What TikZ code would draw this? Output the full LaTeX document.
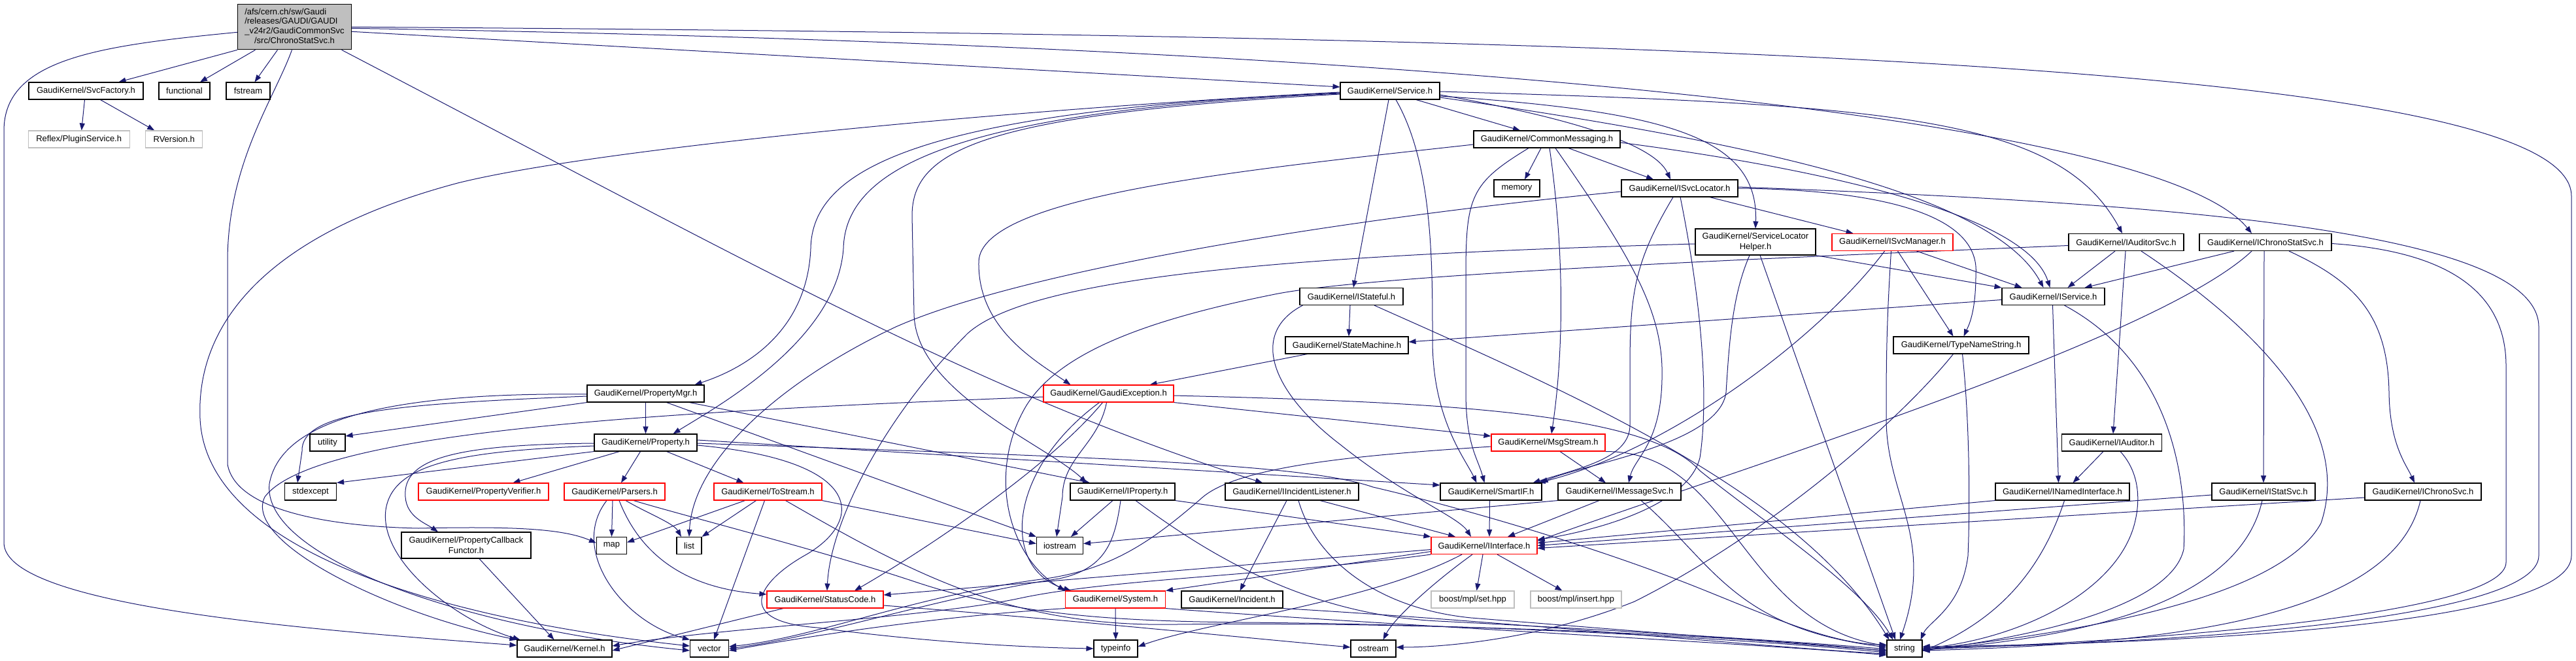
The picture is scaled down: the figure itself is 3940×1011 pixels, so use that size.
\documentclass[tikz,border=0pt]{standalone}
\usepackage{fontspec}
\setmainfont{Liberation Sans}
\usetikzlibrary{arrows.meta,backgrounds}
\definecolor{depBlue}{HTML}{191970}
\definecolor{rootGray}{HTML}{BFBFBF}
\definecolor{hideRed}{HTML}{FF0000}
\definecolor{extGray}{HTML}{BFBFBF}

\begin{document}
\begin{tikzpicture}[x=1pt, y=-1pt,
    hdr/.style={draw=black, fill=white, line width=1.1pt, inner sep=0pt,
      minimum height=26pt, align=center, font=\fontsize{13}{15.5}\selectfont},
    redhdr/.style={hdr, draw=hideRed},
    grayhdr/.style={hdr, draw=extGray},
    dep/.style={depBlue, line width=1pt, -{Triangle[length=11pt,width=8pt]}}]
  \useasboundingbox (0,0) rectangle (3940,1011);

  % header boxes, row by row
  \node[hdr, fill=rootGray, minimum width=174pt, minimum height=69pt, font=\fontsize{13}{14.7}\selectfont] (root) at (450.5,41.3)
    {\begin{tabular}{@{}l@{}}/afs/cern.ch/sw/Gaudi\\/releases/GAUDI/GAUDI\\\_v24r2/GaudiCommonSvc\\\multicolumn{1}{@{}c@{}}{/src/ChronoStatSvc.h}\end{tabular}};
  \node[hdr, minimum width=175pt] (svcfactory) at (131.5,139) {GaudiKernel/SvcFactory.h};
  \node[hdr, minimum width=78pt] (functional) at (282,139) {functional};
  \node[hdr, minimum width=67pt] (fstream) at (379.5,139) {fstream};
  \node[hdr, minimum width=152pt] (service) at (2126,139) {GaudiKernel/Service.h};
  \node[grayhdr, minimum width=155pt] (reflex) at (120.7,213) {Reflex/PluginService.h};
  \node[grayhdr, minimum width=87pt] (rversion) at (266.3,213) {RVersion.h};
  \node[hdr, minimum width=224pt] (commonmsg) at (2366,213) {GaudiKernel/CommonMessaging.h};
  \node[hdr, minimum width=70pt] (memory) at (2320,288) {memory};
  \node[hdr, minimum width=178pt] (isvclocator) at (2569,288) {GaudiKernel/ISvcLocator.h};
  \node[hdr, minimum width=184pt, minimum height=40pt] (locatorhelper) at (2685,370) {GaudiKernel/ServiceLocator\\Helper.h};
  \node[redhdr, minimum width=185pt] (isvcmanager) at (2894.5,370.5) {GaudiKernel/ISvcManager.h};
  \node[hdr, minimum width=176pt] (iauditorsvc) at (3252,370.5) {GaudiKernel/IAuditorSvc.h};
  \node[hdr, minimum width=202pt] (ichronostat) at (3465,370.5) {GaudiKernel/IChronoStatSvc.h};
  \node[hdr, minimum width=158pt] (istateful) at (2067,453.5) {GaudiKernel/IStateful.h};
  \node[hdr, minimum width=157pt] (iservice) at (3140.5,453.5) {GaudiKernel/IService.h};
  \node[hdr, minimum width=188pt] (statemachine) at (2060,528) {GaudiKernel/StateMachine.h};
  \node[hdr, minimum width=207pt] (typenamestring) at (2999.5,528) {GaudiKernel/TypeNameString.h};
  \node[hdr, minimum width=179pt] (propertymgr) at (987.5,602) {GaudiKernel/PropertyMgr.h};
  \node[redhdr, minimum width=199pt] (gaudiexception) at (1695.5,602) {GaudiKernel/GaudiException.h};
  \node[hdr, minimum width=157pt] (property) at (987.5,677) {GaudiKernel/Property.h};
  \node[hdr, minimum width=54pt] (utility) at (501,677) {utility};
  \node[redhdr, minimum width=174pt] (msgstream) at (2368,677) {GaudiKernel/MsgStream.h};
  \node[hdr, minimum width=153pt] (iauditor) at (3230,677) {GaudiKernel/IAuditor.h};
  \node[hdr, minimum width=79pt] (stdexcept) at (475,752) {stdexcept};
  \node[redhdr, minimum width=199pt] (propertyverifier) at (739.5,752) {GaudiKernel/PropertyVerifier.h};
  \node[redhdr, minimum width=154pt] (parsers) at (940,752) {GaudiKernel/Parsers.h};
  \node[redhdr, minimum width=165pt] (tostream) at (1174.5,752) {GaudiKernel/ToStream.h};
  \node[hdr, minimum width=160pt] (iproperty) at (1717,752) {GaudiKernel/IProperty.h};
  \node[hdr, minimum width=204pt] (iincident) at (1976,752) {GaudiKernel/IIncidentListener.h};
  \node[hdr, minimum width=155pt] (smartif) at (2280.5,752) {GaudiKernel/SmartIF.h};
  \node[hdr, minimum width=188pt] (imessagesvc) at (2477,752) {GaudiKernel/IMessageSvc.h};
  \node[hdr, minimum width=205pt] (inamedinterface) at (3154.5,752) {GaudiKernel/INamedInterface.h};
  \node[hdr, minimum width=158pt] (istatsvc) at (3462,752) {GaudiKernel/IStatSvc.h};
  \node[hdr, minimum width=178pt] (ichronosvc) at (3706,752) {GaudiKernel/IChronoSvc.h};
  \node[hdr, minimum width=198pt, minimum height=40pt] (propertycallback) at (713,834) {GaudiKernel/PropertyCallback\\Functor.h};
  \node[hdr, minimum width=46pt] (map) at (935.5,834.5) {map};
  \node[hdr, minimum width=38pt] (list) at (1054,834.5) {list};
  \node[hdr, minimum width=71pt] (iostream) at (1621,834.5) {iostream};
  \node[redhdr, minimum width=162pt] (iinterface) at (2270,834.5) {GaudiKernel/IInterface.h};
  \node[redhdr, minimum width=178pt] (statuscode) at (1262,917) {GaudiKernel/StatusCode.h};
  \node[redhdr, minimum width=153pt] (system) at (1706,917) {GaudiKernel/System.h};
  \node[hdr, minimum width=155pt] (incident) at (1884.5,917) {GaudiKernel/Incident.h};
  \node[grayhdr, minimum width=127pt] (boostset) at (2252.5,917) {boost/mpl/set.hpp};
  \node[grayhdr, minimum width=139pt] (boostinsert) at (2410.5,917) {boost/mpl/insert.hpp};
  \node[hdr, minimum width=145pt] (kernel) at (863.5,992) {GaudiKernel/Kernel.h};
  \node[hdr, minimum width=59pt] (vector) at (1085,992) {vector};
  \node[hdr, minimum width=67pt] (typeinfo) at (1706.5,992) {typeinfo};
  \node[hdr, minimum width=69pt] (ostream) at (2100.5,992) {ostream};
  \node[hdr, minimum width=54pt] (string) at (2913,992) {string};

  \begin{scope}[on background layer]
  % ChronoStatSvc.h
  \draw[dep] ([yshift=-8pt]root.west) .. controls (150,70) and (6,90) .. (6,200) -- (6,830) .. controls (6,930) and (500,965) .. ([yshift=5pt]kernel.west);
  \draw[dep] (root.south west) -- ([xshift=50pt]svcfactory.north);
  \draw[dep] ([xshift=-60pt]root.south) -- ([xshift=24pt]functional.north);
  \draw[dep] ([xshift=-26pt]root.south) -- ([xshift=10pt]fstream.north);
  \draw[dep] ([xshift=-4pt]root.south) .. controls (420,150) and (348,250) .. (348,400) -- (348,710) .. controls (360,780) and (500,805) .. (640,808) .. controls (780,805) and (860,808) .. ([yshift=4pt]map.west);
  \draw[dep] ([yshift=-7pt]root.east) -- ([yshift=6pt]service.west);
  \draw[dep] (root.east) .. controls (2600,55) and (3933,100) .. (3933,300) -- (3933,850) .. controls (3933,960) and (3300,985) .. ([yshift=3pt]string.east);
  \draw[dep] ([yshift=-2pt]root.east) .. controls (2200,70) and (3300,180) .. ([xshift=-21pt]ichronostat.north);
  \draw[dep] ([xshift=72pt]root.south) .. controls (1200,430) and (1500,600) .. ([xshift=-45pt]iincident.north);
  % SvcFactory.h
  \draw[dep] ([xshift=-2pt]svcfactory.south) -- ([xshift=4pt]reflex.north);
  \draw[dep] ([xshift=22pt]svcfactory.south) -- ([xshift=-30pt]rversion.north);
  % Service.h
  \draw[dep] ([xshift=40pt]service.south) -- ([xshift=-41pt]commonmsg.north);
  \draw[dep] ([yshift=-6pt]service.east) .. controls (2400,180) and (2530,220) .. ([xshift=-14pt]isvclocator.north);
  \draw[dep] ([yshift=-8pt]service.east) .. controls (2550,170) and (2690,210) .. (locatorhelper.north);
  \draw[dep] ([yshift=-10pt]service.east) .. controls (2700,220) and (3050,300) .. ([xshift=-15pt]iservice.north);
  \draw[dep] ([yshift=-1pt]service.east) .. controls (2900,160) and (3150,180) .. ([xshift=-6pt]iauditorsvc.north);
  \draw[dep] ([xshift=-2pt]service.south) -- ([xshift=3pt]istateful.north);
  \draw[dep] ([xshift=9pt]service.south) .. controls (2191,250) and (2191,400) .. (2191,520) .. controls (2191,640) and (2240,700) .. ([xshift=-22pt]smartif.north);
  \draw[dep] ([yshift=-3pt]service.west) .. controls (1400,170) and (1242,260) .. (1240,380) .. controls (1235,500) and (1150,560) .. ([xshift=75pt]propertymgr.north);
  \draw[dep] ([yshift=-4pt]service.west) .. controls (1450,170) and (1293,260) .. (1290,380) .. controls (1280,520) and (1100,620) .. ([xshift=42pt]property.north);
  \draw[dep] ([yshift=-5pt]service.west) .. controls (1500,175) and (1395,230) .. (1395,330) -- (1398,480) .. controls (1400,600) and (1600,680) .. ([xshift=-55pt]iproperty.north);
  \draw[dep] ([yshift=-2pt]service.west) .. controls (1500,170) and (900,230) .. (700,280) .. controls (400,360) and (300,500) .. (306,640) .. controls (315,850) and (700,950) .. ([yshift=4pt]vector.west);
  % CommonMessaging.h
  \draw[dep] ([xshift=-9pt]commonmsg.south) -- ([xshift=12pt]memory.north);
  \draw[dep] ([xshift=33pt]commonmsg.south) -- ([xshift=-40pt]isvclocator.north);
  \draw[dep] ([xshift=-28pt]commonmsg.south) .. controls (2250,280) and (2242,300) .. (2242,420) -- (2242,600) .. controls (2242,680) and (2260,700) .. ([xshift=-10pt]smartif.north);
  \draw[dep] ([xshift=4pt]commonmsg.south) .. controls (2395,400) and (2390,550) .. ([xshift=5pt]msgstream.north);
  \draw[dep] ([xshift=13pt]commonmsg.south) .. controls (2500,400) and (2545,480) .. (2542,580) .. controls (2540,680) and (2500,700) .. ([xshift=14pt]imessagesvc.north);
  \draw[dep] ([yshift=-8pt]commonmsg.west) .. controls (1900,260) and (1500,300) .. (1497,400) .. controls (1495,500) and (1580,550) .. ([xshift=-58pt]gaudiexception.north);
  \draw[dep] ([yshift=-5pt]commonmsg.east) .. controls (2800,260) and (3100,330) .. ([xshift=-5pt]iservice.north);
  % ISvcLocator.h
  \draw[dep] ([xshift=46pt]isvclocator.south) -- ([xshift=-60pt]isvcmanager.north);
  \draw[dep] ([xshift=-10pt]isvclocator.south) .. controls (2500,400) and (2493,450) .. (2493,560) -- (2493,650) .. controls (2493,700) and (2420,715) .. ([xshift=-14pt]smartif.north east);
  \draw[dep] ([xshift=1pt]isvclocator.south) .. controls (2600,450) and (2615,600) .. (2600,700) .. controls (2580,780) and (2420,815) .. ([yshift=9pt]iinterface.east);
  \draw[dep] ([yshift=-5pt]isvclocator.west) .. controls (2000,340) and (1550,420) .. (1370,500) .. controls (1200,580) and (1060,700) .. (list.north);
  \draw[dep] (isvclocator.east) .. controls (2850,290) and (3030,320) .. (3022,420) .. controls (3022,480) and (3010,500) .. ([xshift=4pt]typenamestring.north);
  \draw[dep] ([yshift=2pt]isvclocator.east) .. controls (3300,310) and (3883,350) .. (3883,500) -- (3883,850) .. controls (3883,950) and (3300,985) .. ([yshift=1pt]string.east);
  % ServiceLocatorHelper.h
  \draw[dep] ([yshift=-3pt]locatorhelper.west) .. controls (2000,390) and (1580,420) .. (1480,510) .. controls (1350,640) and (1270,800) .. ([xshift=3pt]statuscode.north);
  \draw[dep] ([xshift=-9pt]locatorhelper.south) .. controls (2650,450) and (2645,520) .. (2640,600) .. controls (2630,680) and (2420,710) .. ([xshift=-2pt]smartif.north east);
  \draw[dep] ([xshift=7pt]locatorhelper.south) -- ([xshift=-14pt]string.north);
  \draw[dep] (locatorhelper.south east) -- (iservice.north west);
  % ISvcManager.h
  \draw[dep] ([xshift=-12pt]isvcmanager.south) .. controls (2780,520) and (2550,690) .. ([xshift=-6pt]smartif.north east);
  \draw[dep] ([xshift=-2pt]isvcmanager.south) .. controls (2885,500) and (2885,560) .. (2885,640) .. controls (2885,760) and (2960,820) .. ([xshift=-7pt]string.north);
  \draw[dep] ([xshift=8pt]isvcmanager.south) -- ([xshift=-12pt]typenamestring.north);
  \draw[dep] ([xshift=37pt]isvcmanager.south) -- ([xshift=-48pt]iservice.north);
  % IAuditorSvc.h
  \draw[dep] ([yshift=-5pt]iauditorsvc.west) .. controls (2700,395) and (2100,420) .. (1950,450) .. controls (1750,490) and (1620,540) .. (1570,620) .. controls (1510,720) and (1540,850) .. (system.north west);
  \draw[dep] ([xshift=-17pt]iauditorsvc.south) -- ([xshift=22pt]iservice.north);
  \draw[dep] ([xshift=-1pt]iauditorsvc.south) -- ([xshift=2pt]iauditor.north);
  \draw[dep] ([xshift=23pt]iauditorsvc.south) .. controls (3450,500) and (3600,650) .. (3550,800) .. controls (3480,930) and (3100,975) .. ([yshift=-2pt]string.east);
  % IChronoStatSvc.h
  \draw[dep] ([xshift=-48pt]ichronostat.south) -- ([xshift=48pt]iservice.north);
  \draw[dep] ([xshift=-21pt]ichronostat.south) .. controls (3300,520) and (2650,720) .. ([yshift=7pt]iinterface.east);
  \draw[dep] ([xshift=-2pt]ichronostat.south) -- (istatsvc.north);
  \draw[dep] ([xshift=36pt]ichronostat.south) .. controls (3600,430) and (3652,480) .. (3654,600) .. controls (3655,680) and (3680,710) .. ([xshift=-13pt]ichronosvc.north);
  \draw[dep] ([yshift=-2pt]ichronostat.east) .. controls (3750,385) and (3833,450) .. (3833,560) -- (3833,860) .. controls (3833,940) and (3300,980) .. ([yshift=-1pt]string.east);
  % IService.h, IStateful.h, StateMachine.h
  \draw[dep] ([yshift=-5pt]iservice.west) -- ([yshift=5pt]statemachine.east);
  \draw[dep] ([xshift=-1pt]iservice.south) -- ([xshift=-6pt]inamedinterface.north);
  \draw[dep] ([xshift=17pt]iservice.south) .. controls (3330,560) and (3345,750) .. (3340,840) .. controls (3320,930) and (3100,975) .. ([yshift=-3pt]string.east);
  \draw[dep] ([xshift=-2pt]istateful.south) -- ([xshift=3pt]statemachine.north);
  \draw[dep] ([xshift=5pt]istateful.south west) .. controls (1910,510) and (1945,600) .. (2050,680) .. controls (2150,760) and (2230,790) .. ([xshift=-20pt]iinterface.north);
  \draw[dep] ([xshift=35pt]istateful.south) .. controls (2400,600) and (2750,750) .. ([xshift=4pt]string.north west);
  \draw[dep] ([xshift=34pt]statemachine.south west) -- ([xshift=63pt]gaudiexception.north);
  % TypeNameString.h, IAuditor.h and the small interfaces
  \draw[dep] ([xshift=-12pt]typenamestring.south) .. controls (2900,650) and (2700,820) .. (2500,920) .. controls (2350,980) and (2200,990) .. ([yshift=2pt]ostream.east);
  \draw[dep] ([xshift=2pt]typenamestring.south) .. controls (3013,650) and (3013,780) .. (3010,850) .. controls (3000,930) and (2950,950) .. ([xshift=-3pt]string.north east);
  \draw[dep] ([xshift=-13pt]iauditor.south) -- ([xshift=16pt]inamedinterface.north);
  \draw[dep] ([xshift=13pt]iauditor.south) .. controls (3270,720) and (3275,760) .. (3265,800) .. controls (3240,900) and (3100,975) .. (string.east);
  \draw[dep] (inamedinterface.south west) -- ([yshift=4pt]iinterface.east);
  \draw[dep] ([xshift=3pt]inamedinterface.south) .. controls (3120,880) and (3050,950) .. ([yshift=-4pt]string.east);
  \draw[dep] ([yshift=-5pt]istatsvc.west) -- (iinterface.east);
  \draw[dep] ([xshift=-2pt]istatsvc.south) .. controls (3430,900) and (3250,970) .. ([yshift=-2pt]string.east);
  \draw[dep] ([yshift=-9pt]ichronosvc.west) -- ([yshift=-4pt]iinterface.east);
  \draw[dep] ([xshift=-4pt]ichronosvc.south) .. controls (3660,950) and (3300,985) .. ([yshift=-3pt]string.east);
  % GaudiException.h
  \draw[dep] ([yshift=-5pt]gaudiexception.west) .. controls (1000,630) and (480,660) .. (405,760) .. controls (370,830) and (600,940) .. (kernel.north west);
  \draw[dep] ([xshift=-14pt]gaudiexception.south) .. controls (1540,720) and (1530,870) .. ([xshift=-68pt]system.north);
  \draw[dep] ([xshift=-9pt]gaudiexception.south) .. controls (1600,720) and (1400,850) .. ([xshift=45pt]statuscode.north);
  \draw[dep] ([xshift=-3pt]gaudiexception.south) .. controls (1680,680) and (1625,700) .. (1625,760) -- ([xshift=-5pt]iostream.north);
  \draw[dep] ([yshift=-3pt]gaudiexception.east) .. controls (2200,615) and (2520,630) .. (2600,720) .. controls (2700,800) and (2850,900) .. ([xshift=10pt]string.north west);
  \draw[dep] (gaudiexception.south east) -- ([yshift=10pt]msgstream.west);
  % MsgStream.h, IMessageSvc.h, SmartIF.h
  \draw[dep] ([xshift=18pt]msgstream.south) -- ([xshift=-21pt]imessagesvc.north);
  \draw[dep] (msgstream.south east) .. controls (2650,690) and (2660,950) .. ([yshift=4pt]string.west);
  \draw[dep] ([yshift=-6pt]msgstream.west) .. controls (2100,695) and (1900,710) .. (1840,760) .. controls (1760,830) and (1700,870) .. (1600,885) .. controls (1400,910) and (1250,975) .. ([yshift=3pt]vector.east);
  \draw[dep] ([xshift=-31pt]imessagesvc.south) -- ([xshift=36pt]iinterface.north);
  \draw[dep] (imessagesvc.south west) -- ([yshift=3pt]iostream.east);
  \draw[dep] ([xshift=33pt]imessagesvc.south) .. controls (2620,860) and (2650,960) .. ([yshift=2pt]string.west);
  \draw[dep] ([xshift=-2pt]smartif.south) -- ([xshift=8pt]iinterface.north);
  % IInterface.h
  \draw[dep] ([yshift=-6pt]iinterface.west) -- ([yshift=7pt]statuscode.east);
  \draw[dep] ([yshift=-9pt]iinterface.west) -- (system.north east);
  \draw[dep] (iinterface.south west) .. controls (1950,880) and (1700,885) .. (1560,915) .. controls (1420,945) and (1100,960) .. ([yshift=4pt]kernel.east);
  \draw[dep] ([xshift=-34pt]iinterface.south) .. controls (2100,920) and (1850,950) .. ([yshift=3pt]typeinfo.east);
  \draw[dep] ([xshift=-18pt]iinterface.south) .. controls (2180,900) and (2130,950) .. ([xshift=15pt]ostream.north);
  \draw[dep] ([xshift=-2pt]iinterface.south) -- ([xshift=6pt]boostset.north);
  \draw[dep] ([xshift=20pt]iinterface.south) -- ([xshift=-21pt]boostinsert.north);
  % IProperty.h, IIncidentListener.h, Incident.h, System.h, StatusCode.h
  \draw[dep] ([xshift=-15pt]iproperty.south) -- ([xshift=17pt]iostream.north);
  \draw[dep] ([xshift=-3pt]iproperty.south) .. controls (1705,830) and (1690,870) .. (1620,885) .. controls (1450,910) and (1250,975) .. (vector.east);
  \draw[dep] ([xshift=20pt]iproperty.south) .. controls (1850,850) and (2000,940) .. (2200,950) .. controls (2500,965) and (2800,985) .. ([yshift=-1pt]string.west);
  \draw[dep] (iproperty.south east) -- (iinterface.north west);
  \draw[dep] ([xshift=-8pt]iincident.south) -- ([xshift=12pt]incident.north);
  \draw[dep] ([xshift=43pt]iincident.south) -- ([xshift=-44pt]iinterface.north);
  \draw[dep] ([xshift=10pt]iincident.south) .. controls (2010,850) and (2100,930) .. (2250,945) .. controls (2500,965) and (2750,985) .. ([yshift=-3pt]string.west);
  \draw[dep] (incident.south east) .. controls (2300,950) and (2700,990) .. ([yshift=-8pt]string.west);
  \draw[dep] (system.south) -- (typeinfo.north);
  \draw[dep] (system.south west) .. controls (1400,945) and (1200,980) .. ([yshift=-3pt]vector.east);
  \draw[dep] (system.south east) .. controls (2100,955) and (2700,985) .. ([yshift=-10pt]string.west);
  \draw[dep] ([xshift=-64pt]statuscode.south) -- ([yshift=-3pt]kernel.east);
  \draw[dep] ([yshift=-9pt]statuscode.east) .. controls (1600,945) and (1900,975) .. ([yshift=2pt]ostream.west);
  % PropertyMgr.h
  \draw[dep] (propertymgr.south) -- (property.north);
  \draw[dep] (propertymgr.south west) -- ([yshift=10pt]utility.east);
  \draw[dep] ([yshift=-4pt]propertymgr.west) .. controls (600,618) and (460,630) .. (462,690) -- ([xshift=-20pt]stdexcept.north);
  \draw[dep] ([yshift=-1pt]propertymgr.west) .. controls (600,600) and (430,640) .. (412,740) .. controls (400,850) and (700,960) .. ([yshift=-3pt]vector.west);
  \draw[dep] ([xshift=32pt]propertymgr.south) -- (iostream.north west);
  \draw[dep] ([xshift=67pt]propertymgr.south) -- ([xshift=-50pt]iproperty.north);
  % Property.h
  \draw[dep] ([yshift=-1pt]property.west) .. controls (700,680) and (615,700) .. (620,760) .. controls (622,790) and (650,800) .. ([xshift=-43pt]propertycallback.north);
  \draw[dep] ([yshift=-5pt]property.west) .. controls (700,690) and (600,710) .. (590,780) .. controls (580,860) and (700,950) .. ([xshift=5pt]kernel.north west);
  \draw[dep] (property.south west) -- (stdexcept.north east);
  \draw[dep] ([xshift=-40pt]property.south) -- ([xshift=45pt]propertyverifier.north);
  \draw[dep] ([xshift=-8pt]property.south) -- ([xshift=10pt]parsers.north);
  \draw[dep] ([xshift=32pt]property.south) -- ([xshift=-37pt]tostream.north);
  \draw[dep] ([yshift=4pt]property.east) -- ([yshift=10pt]smartif.west);
  \draw[dep] ([yshift=-1pt]property.east) .. controls (1700,700) and (2000,710) .. (2100,745) .. controls (2250,780) and (2450,840) .. (2600,900) .. controls (2700,940) and (2800,985) .. ([yshift=6pt]string.west);
  \draw[dep] ([yshift=-4pt]property.east) .. controls (1330,705) and (1320,800) .. (1230,850) .. controls (1160,890) and (1120,950) .. (1250,960) .. controls (1400,980) and (1550,990) .. (typeinfo.west);
  % Parsers.h, ToStream.h, PropertyCallbackFunctor.h
  \draw[dep] ([xshift=-3pt]parsers.south) -- (map.north);
  \draw[dep] ([xshift=-12pt]parsers.south) .. controls (870,840) and (950,950) .. (vector.north west);
  \draw[dep] ([xshift=7pt]parsers.south) .. controls (980,850) and (1050,900) .. ([yshift=8pt]statuscode.west);
  \draw[dep] ([xshift=17pt]parsers.south) .. controls (990,785) and (1030,800) .. ([xshift=-12pt]list.north);
  \draw[dep] ([xshift=29pt]parsers.south) .. controls (1050,790) and (1250,840) .. (1400,890) .. controls (1550,940) and (1700,950) .. (1900,952) .. controls (2300,955) and (2700,980) .. ([yshift=-6pt]string.west);
  \draw[dep] ([xshift=-35pt]tostream.south) -- ([yshift=5pt]map.east);
  \draw[dep] ([xshift=-18pt]tostream.south) -- (list.north east);
  \draw[dep] ([xshift=-5pt]tostream.south) -- ([xshift=7pt]vector.north);
  \draw[dep] ([xshift=27pt]tostream.south) .. controls (1400,880) and (1550,960) .. (1800,955) .. controls (2200,950) and (2700,975) .. ([yshift=-4pt]string.west);
  \draw[dep] (tostream.south east) -- ([yshift=3pt]iostream.west);
  \draw[dep] ([xshift=20pt]propertycallback.south) -- ([xshift=-16pt]kernel.north);
  \end{scope}
\end{tikzpicture}
\end{document}
